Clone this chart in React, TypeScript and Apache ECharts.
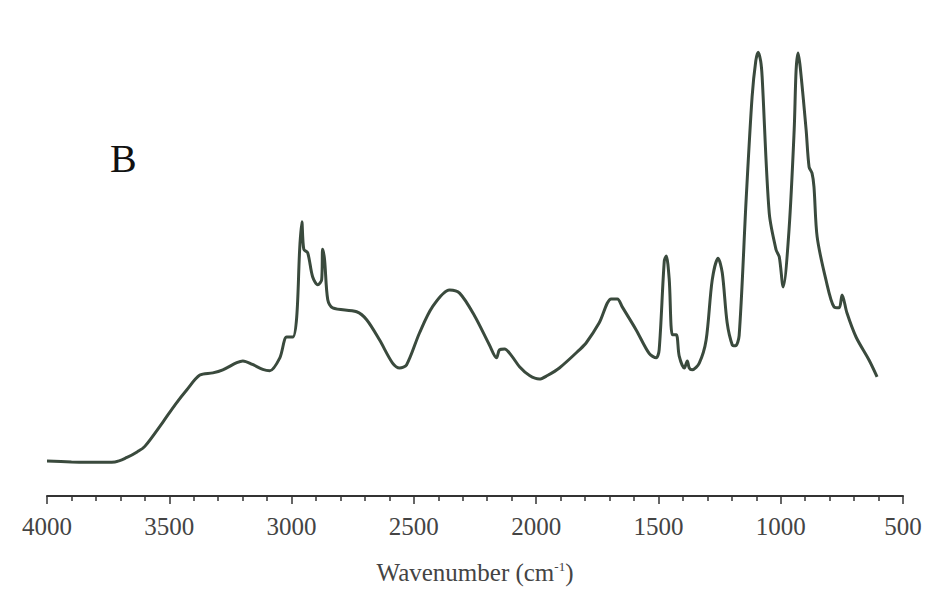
import React, { useEffect, useRef } from "react";
import * as echarts from "echarts";

// wavenumber (cm-1) and relative absorbance
const wavenumbers = [
  4000, 3900, 3800, 3722, 3673, 3630, 3600, 3526, 3475, 3428, 3375, 3322, 3281,
  3224, 3199, 3160, 3118, 3089, 3048, 3020, 2995, 2979, 2967, 2958, 2950, 2934,
  2914, 2893, 2877, 2873, 2865, 2852, 2832, 2734, 2693, 2640, 2587, 2558, 2530,
  2477, 2424, 2354, 2313, 2252, 2191, 2162, 2150, 2129, 2101, 2068, 2027, 1987,
  1954, 1905, 1823, 1795, 1742, 1693, 1668, 1648, 1591, 1538, 1509, 1497, 1476,
  1468, 1456, 1443, 1427, 1415, 1394, 1382, 1374, 1362, 1333, 1305, 1280, 1256,
  1239, 1219, 1198, 1185, 1170, 1141, 1117, 1102, 1092, 1082, 1076, 1047, 1019, 1006, 990, 966,
  945, 937, 929, 920, 896, 884, 872, 864, 851, 815, 782, 761, 749, 729, 692, 639, 606,
];
const absorbance = [
  7.2, 7.0, 6.9, 7.0, 8.0, 9.3, 10.5, 16.0, 20.0, 23.3, 26.6, 27.1, 27.8,
  29.4, 29.8, 29.0, 27.9, 27.6, 30.5, 35.2, 35.2, 39.7, 54.9, 61.2, 55.0, 54.2,
  48.8, 47.0, 48.1, 55.0, 52.6, 43.6, 41.8, 40.9, 39.1, 34.5, 29.3, 28.2, 28.9,
  36.1, 42.0, 45.8, 45.1, 40.0, 33.4, 30.5, 32.3, 32.5, 31.0, 28.5, 26.5, 25.7,
  26.5, 28.2, 32.3, 33.9, 38.4, 43.8, 43.8, 42.0, 36.8, 31.5, 30.5, 32.3, 52.4,
  53.5, 48.3, 35.7, 35.7, 30.9, 28.2, 29.8, 28.2, 27.8, 29.3, 34.5, 48.1, 53.0,
  49.7, 38.4, 33.4, 33.2, 35.5, 66.6, 89.4, 97.5, 99.5, 97.5, 94.0, 63.2, 54.9, 53.3, 46.5, 59.4,
  81.9, 95.5, 99.3, 96.0, 81.9, 73.6, 72.2, 69.1, 57.8, 48.1, 42.0, 41.8, 44.7, 40.6, 35.2,
  30.0, 26.2,
];
const xTicks = [4000, 3500, 3000, 2500, 2000, 1500, 1000, 500];
const panelLabel = "B";

export default function App() {
  const ref = useRef<HTMLDivElement>(null);
  useEffect(() => {
    if (!ref.current) return;
    const chart = echarts.init(ref.current, null, { renderer: "svg" });
    const font = "Liberation Serif";
    chart.setOption({
      animation: false,
      backgroundColor: "#ffffff",
      grid: { left: 47, right: 30, top: 50, bottom: 108 },
      xAxis: {
        type: "value",
        inverse: true,
        min: xTicks[xTicks.length - 1],
        max: xTicks[0],
        interval: 500,
        minorTick: { show: true, splitNumber: 5, length: 5, lineStyle: { color: "#333", width: 1.5 } },
        axisLine: { onZero: false, lineStyle: { color: "#333", width: 2 } },
        axisTick: { show: true, length: 8, lineStyle: { color: "#333", width: 1.5 } },
        splitLine: { show: false },
        axisLabel: {
          color: "#444",
          fontFamily: font,
          fontSize: 25,
          margin: 18,
          formatter: (v: number) => String(v),
        },
        name: "Wavenumber (cm{sup|-1})",
        nameLocation: "middle",
        nameGap: 64,
        nameTextStyle: {
          color: "#444",
          fontFamily: font,
          fontSize: 25,
          rich: {
            sup: { fontSize: 13, fontFamily: font, color: "#444", verticalAlign: "top", padding: [0, 0, 12, 0] },
          },
        },
      },
      yAxis: {
        type: "value",
        min: -0.7,
        max: 100,
        show: false,
      },
      graphic: [
        {
          type: "text",
          left: 110,
          top: 138,
          style: { text: panelLabel, fontFamily: font, fontSize: 40, fill: "#111" },
        },
      ],
      series: [
        {
          type: "line",
          data: wavenumbers.map((w, i) => [w, absorbance[i]]),
          showSymbol: false,
          smooth: 0.3,
          lineStyle: { color: "#3a4a3d", width: 3 },
        },
      ],
    });
    return () => chart.dispose();
  }, []);
  return (
    <div
      ref={ref}
      style={{ position: "absolute", left: 0, top: 0, width: 933, height: 604 }}
    />
  );
}
